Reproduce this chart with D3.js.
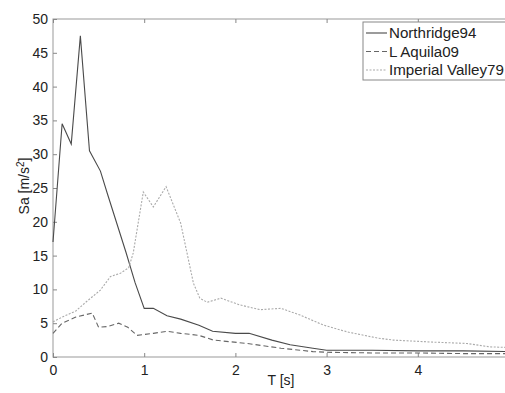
<!DOCTYPE html>
<html>
<head>
<meta charset="utf-8">
<script src="https://cdn.jsdelivr.net/npm/d3@7"></script>
<style>
  body { margin: 0; background: #fff; }
  text { font-family: "Liberation Sans", Arial, sans-serif; fill: #222; }
</style>
</head>
<body>
<script>
// spectra
const northridgeT  = [0, 0.1, 0.2, 0.3, 0.4, 0.52, 0.6, 0.8, 0.9, 1.0, 1.1, 1.25, 1.4, 1.6, 1.75, 2.0, 2.15, 2.4, 2.6, 2.85, 3.0, 3.5, 4.0, 4.5, 5.0];
const northridgeSa = [17, 34.5, 31.5, 47.5, 30.5, 27.5, 24, 15.5, 11, 7.2, 7.2, 6.1, 5.6, 4.7, 3.8, 3.5, 3.5, 2.5, 1.8, 1.3, 1.0, 1.0, 0.9, 0.9, 0.8];

const aquilaT  = [0, 0.1, 0.25, 0.43, 0.5, 0.6, 0.72, 0.82, 0.92, 1.1, 1.25, 1.4, 1.6, 1.76, 2.13, 2.5, 2.85, 3.0, 3.5, 4.0, 4.5, 5.0];
const aquilaSa = [3.5, 5.0, 5.9, 6.5, 4.4, 4.5, 5.0, 4.4, 3.2, 3.5, 3.8, 3.5, 3.2, 2.5, 2.0, 1.3, 0.8, 0.7, 0.6, 0.6, 0.5, 0.5];

const imperialT  = [0, 0.1, 0.25, 0.35, 0.52, 0.63, 0.74, 0.83, 0.88, 0.99, 1.1, 1.24, 1.4, 1.54, 1.61, 1.69, 1.84, 2.05, 2.27, 2.5, 2.71, 2.97, 3.23, 3.56, 3.73, 4.17, 4.54, 4.79, 5.0];
const imperialSa = [5.2, 5.9, 6.8, 8.0, 9.9, 11.9, 12.4, 13.2, 15.4, 24.4, 22.2, 25.2, 19.8, 10.9, 8.7, 8.1, 8.7, 7.7, 7.0, 7.2, 6.2, 4.7, 3.7, 2.8, 2.5, 2.2, 2.0, 1.5, 1.4];

const seriesNames = ["Northridge94", "L Aquila09", "Imperial Valley79"];
const xTicks = [0, 1, 2, 3, 4, 5];
const xTickLabels = ["0", "1", "2", "3", "4", ""];   // the 5 falls off the right edge
const yTicks = [0, 5, 10, 15, 20, 25, 30, 35, 40, 45, 50];

const w = 505, h = 393;
const plotL = 53, plotR = 509, plotT = 19, plotB = 357;

const svg = d3.select("body").append("svg")
    .attr("width", w)
    .attr("height", h);

const x = d3.scaleLinear().domain([0, 5]).range([plotL, plotR]);
const y = d3.scaleLinear().domain([0, 50]).range([plotB, plotT]);

// frame
svg.append("rect")
    .attr("x", plotL).attr("y", plotT)
    .attr("width", plotR - plotL).attr("height", plotB - plotT)
    .attr("fill", "none").attr("stroke", "#999").attr("stroke-width", 1);

// axes with inward ticks, mirrored on top/right
const styleAxis = g => {
    g.select(".domain").remove();
    g.selectAll(".tick line").attr("stroke", "#888");
    g.selectAll(".tick text").style("font-size", "14px").attr("fill", "#222");
};

svg.append("g")
    .attr("transform", "translate(0," + plotB + ")")
    .call(d3.axisBottom(x).tickValues(xTicks).tickSize(-4).tickPadding(8).tickFormat((d, i) => xTickLabels[i]))
    .call(styleAxis);
svg.append("g")
    .attr("transform", "translate(0," + plotT + ")")
    .call(d3.axisTop(x).tickValues(xTicks).tickSize(-4).tickFormat(""))
    .call(styleAxis);
svg.append("g")
    .attr("transform", "translate(" + plotL + ",0)")
    .call(d3.axisLeft(y).tickValues(yTicks).tickSize(-4).tickPadding(5).tickFormat(d3.format("d")))
    .call(styleAxis);
svg.append("g")
    .attr("transform", "translate(" + plotR + ",0)")
    .call(d3.axisRight(y).tickValues(yTicks).tickSize(-4).tickFormat(""))
    .call(styleAxis);

// labels
svg.append("text")
    .attr("x", (plotL + plotR) / 2)
    .attr("y", 385)
    .attr("text-anchor", "middle")
    .style("font-size", "14px")
    .text("T [s]");

const ylab = svg.append("text")
    .attr("transform", "translate(29,186) rotate(-90)")
    .attr("text-anchor", "middle")
    .style("font-size", "14px");
ylab.append("tspan").text("Sa [m/s");
ylab.append("tspan").attr("dy", -5).style("font-size", "10px").text("2");
ylab.append("tspan").attr("dy", 5).text("]");

// lines
const styles = [
    { color: "#4a4a4a", dash: null },
    { color: "#666", dash: "5,3" },
    { color: "#aaa", dash: "2,1.5" }
];
const series = [
    d3.zip(northridgeT, northridgeSa),
    d3.zip(aquilaT, aquilaSa),
    d3.zip(imperialT, imperialSa)
];

const line = d3.line().x(d => x(d[0])).y(d => y(d[1]));

svg.append("g").selectAll("path")
    .data(series)
    .enter()
    .append("path")
        .attr("d", line)
        .attr("fill", "none")
        .attr("stroke", (d, i) => styles[i].color)
        .attr("stroke-dasharray", (d, i) => styles[i].dash)
        .attr("stroke-width", 1.1);

// legend
const legend = svg.append("g");
legend.append("rect")
    .attr("x", 363).attr("y", 22)
    .attr("width", 150).attr("height", 58)
    .attr("fill", "#fff").attr("stroke", "#888");

seriesNames.forEach((name, i) => {
    const ly = 33 + i * 18.5;
    legend.append("line")
        .attr("x1", 366).attr("x2", 387)
        .attr("y1", ly).attr("y2", ly)
        .attr("stroke", styles[i].color)
        .attr("stroke-dasharray", styles[i].dash)
        .attr("stroke-width", 1.1);
    // reference glyphs are a bit wider than Liberation Sans
    legend.append("text")
        .attr("transform", "translate(389," + (ly + 5) + ") scale(1.08,1)")
        .style("font-size", "14px")
        .text(name);
});
</script>
</body>
</html>
